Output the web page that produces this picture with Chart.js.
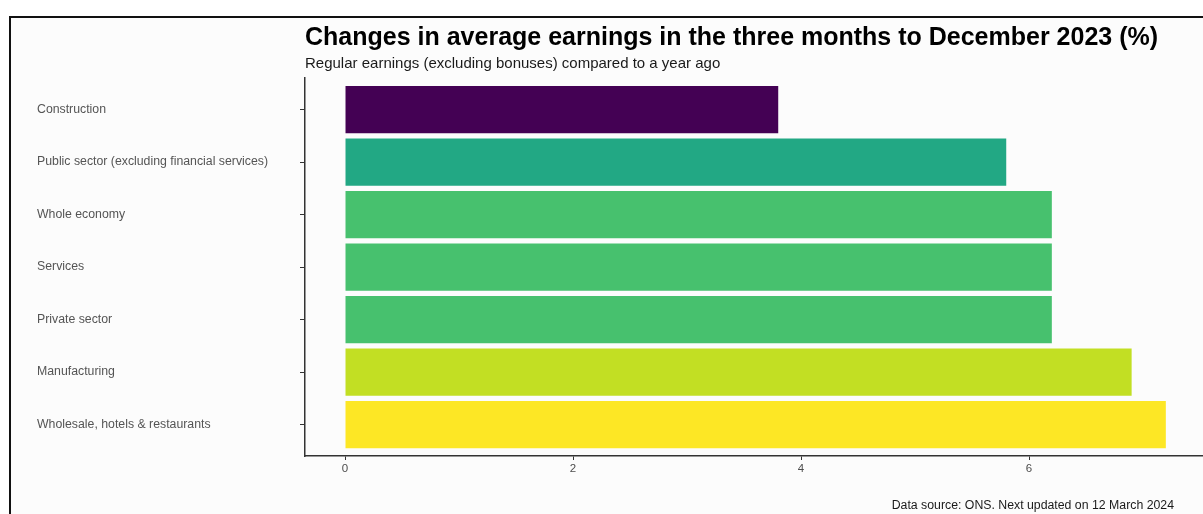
<!DOCTYPE html>
<html>
<head>
<meta charset="utf-8">
<script src="https://cdn.jsdelivr.net/npm/chart.js@4.4.1/dist/chart.umd.min.js"></script>
<style>
    html, body { margin: 0; padding: 0; background: #fff; overflow: hidden; }
    #frame {
        position: absolute; left: 9px; top: 16px; width: 1300px; height: 600px;
        border: 2px solid #111; background: #fcfcfc;
    }
    #wrap { position: absolute; left: 0; top: 0; width: 1203px; height: 514px; }
    #caption {
        position: absolute; right: 29px; top: 498px;
        font: 12.3px "Liberation Sans", Arial, sans-serif; color: #1a1a1a;
    }
</style>
</head>
<body>
<div id="frame"></div>
<div id="wrap"><canvas id="earnings-chart"></canvas></div>
<div id="caption">Data source: ONS. Next updated on 12 March 2024</div>
<script>
const sectors = [
    'Construction',
    'Public sector (excluding financial services)',
    'Whole economy',
    'Services',
    'Private sector',
    'Manufacturing',
    'Wholesale, hotels & restaurants'
];
const growth = [3.8, 5.8, 6.2, 6.2, 6.2, 6.9, 7.2];
const barColors = ['#440154', '#22A884', '#47C16E', '#47C16E', '#47C16E', '#C2DF23', '#FDE725'];
const xTicks = [0, 2, 4, 6];

const font = "'Liberation Sans', Arial, sans-serif";

const earningsChartField = document.getElementById('earnings-chart');
const earningsChart = new Chart(earningsChartField, {
        type: 'bar',
        data: {
            datasets: [{
                data: growth.map((v, i) => ({x: v, y: i})),
                backgroundColor: barColors,
                borderWidth: 0,
                categoryPercentage: 0.9,
                barPercentage: 1
            }]
        },
        options: {
            indexAxis: 'y',
            maintainAspectRatio: false,
            responsive: true,
            animation: false,
            layout: {
                padding: {top: 10, left: 37, right: 0, bottom: 28}
            },
            scales: {
                x: {
                    type: 'linear',
                    min: -0.351,
                    max: 7.526,
                    afterFit: scale => { scale.height = 30; },
                    afterBuildTicks: scale => {
                        scale.ticks = xTicks.map(v => ({value: v}));
                    },
                    border: {display: true, color: '#333', width: 1.5},
                    grid: {drawOnChartArea: false, drawTicks: true, tickLength: 4, color: '#333'},
                    ticks: {
                        color: '#4d4d4d',
                        padding: 2,
                        font: {family: font, size: 11.5}
                    }
                },
                y: {
                    type: 'linear',
                    min: -0.6,
                    max: 6.6,
                    reverse: true,
                    offset: false,
                    afterFit: scale => { scale.width = 268; },
                    border: {display: true, color: '#333', width: 1.5},
                    grid: {drawOnChartArea: false, drawTicks: true, offset: false, tickLength: 5, color: '#333'},
                    ticks: {
                        stepSize: 1,
                        includeBounds: false,
                        crossAlign: 'far',
                        color: '#555',
                        font: {family: font, size: 12.3},
                        callback: value => sectors[value] ?? ''
                    }
                }
            },
            plugins: {
                legend: {display: false},
                tooltip: {enabled: false},
                title: {
                    display: true,
                    fullSize: false,
                    align: 'start',
                    text: 'Changes in average earnings in the three months to December 2023 (%)',
                    color: '#000',
                    font: {family: font, size: 25, weight: 'bold'},
                    padding: {top: 13, bottom: 0}
                },
                subtitle: {
                    display: true,
                    fullSize: false,
                    align: 'start',
                    text: 'Regular earnings (excluding bonuses) compared to a year ago',
                    color: '#1a1a1a',
                    font: {family: font, size: 15},
                    padding: {top: 2, bottom: 5}
                }
            }
        }
    }
);
</script>
</body>
</html>
